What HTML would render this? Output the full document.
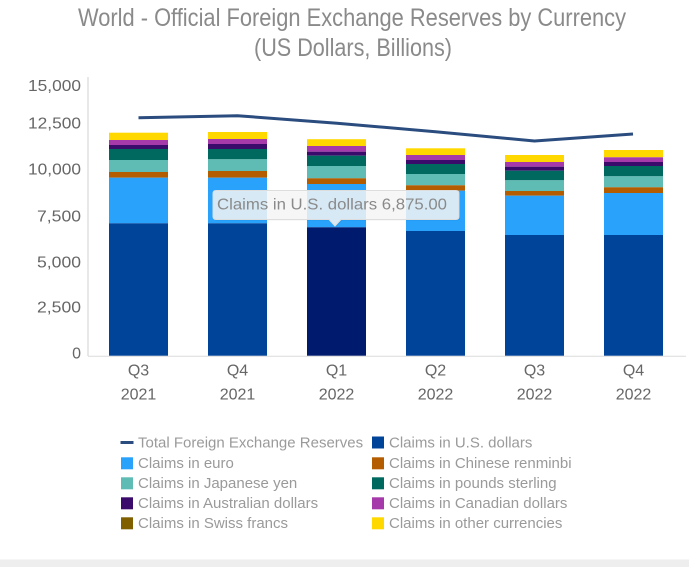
<!DOCTYPE html>
<html>
<head>
<meta charset="utf-8">
<style>
  html, body { margin: 0; padding: 0; background: #ffffff; }
  body { width: 689px; height: 567px; overflow: hidden; }
  svg { display: block; font-family: "Liberation Sans", sans-serif; }
</style>
</head>
<body>
<svg width="689" height="567" viewBox="0 0 689 567" xmlns="http://www.w3.org/2000/svg">
  <rect x="0" y="0" width="689" height="567" fill="#ffffff"/>
  <!-- bottom gray band -->
  <rect x="0" y="559.5" width="689" height="8" fill="#eeeeee"/>

  <!-- Title -->
  <text x="78" y="26" font-size="25" fill="#8a8a8a" textLength="548" lengthAdjust="spacingAndGlyphs">World - Official Foreign Exchange Reserves by Currency</text>
  <text x="254" y="56" font-size="25" fill="#8a8a8a" textLength="198" lengthAdjust="spacingAndGlyphs">(US Dollars, Billions)</text>

  <!-- Y axis labels -->
  <g font-size="16" fill="#666666" text-anchor="end">
    <text x="81" y="91" textLength="53" lengthAdjust="spacingAndGlyphs">15,000</text>
    <text x="81" y="128.5" textLength="53" lengthAdjust="spacingAndGlyphs">12,500</text>
    <text x="81" y="174.5" textLength="53" lengthAdjust="spacingAndGlyphs">10,000</text>
    <text x="81" y="221.5" textLength="44" lengthAdjust="spacingAndGlyphs">7,500</text>
    <text x="81" y="267.5" textLength="44" lengthAdjust="spacingAndGlyphs">5,000</text>
    <text x="81" y="312.5" textLength="44" lengthAdjust="spacingAndGlyphs">2,500</text>
    <text x="81" y="358.5">0</text>
  </g>

  <!-- axes -->
  <line x1="88" y1="77" x2="88" y2="356" stroke="#d0d0d0" stroke-width="1"/>
  <line x1="88" y1="356.2" x2="686" y2="356.2" stroke="#dcdcdc" stroke-width="1"/>

  <!-- Bars: Q3 2021 -->
  <g>
    <rect x="109" y="132.7" width="59" height="7.3" fill="#ffd800"/>
    <rect x="109" y="140" width="59" height="5" fill="#a63aaa"/>
    <rect x="109" y="145" width="59" height="4" fill="#3b0b6b"/>
    <rect x="109" y="149" width="59" height="11" fill="#00695f"/>
    <rect x="109" y="160" width="59" height="12" fill="#5ebcb5"/>
    <rect x="109" y="172" width="59" height="5.7" fill="#b35c00"/>
    <rect x="109" y="177.7" width="59" height="45.6" fill="#28a2fb"/>
    <rect x="109" y="223.3" width="59" height="132.4" fill="#00449a"/>
  </g>
  <!-- Q4 2021 -->
  <g>
    <rect x="208" y="132" width="59" height="7" fill="#ffd800"/>
    <rect x="208" y="139" width="59" height="5" fill="#a63aaa"/>
    <rect x="208" y="144" width="59" height="5" fill="#3b0b6b"/>
    <rect x="208" y="149" width="59" height="10.3" fill="#00695f"/>
    <rect x="208" y="159.3" width="59" height="11.7" fill="#5ebcb5"/>
    <rect x="208" y="171" width="59" height="6.7" fill="#b35c00"/>
    <rect x="208" y="177.7" width="59" height="45.6" fill="#28a2fb"/>
    <rect x="208" y="223.3" width="59" height="132.4" fill="#00449a"/>
  </g>
  <!-- Q1 2022 (hovered) -->
  <g>
    <rect x="307" y="139.2" width="59" height="6.8" fill="#ffd800"/>
    <rect x="307" y="146" width="59" height="5.7" fill="#a63aaa"/>
    <rect x="307" y="151.7" width="59" height="4" fill="#3b0b6b"/>
    <rect x="307" y="155.7" width="59" height="10.3" fill="#00695f"/>
    <rect x="307" y="166" width="59" height="12.3" fill="#5ebcb5"/>
    <rect x="307" y="178.3" width="59" height="5.7" fill="#b35c00"/>
    <rect x="307" y="184" width="59" height="43.3" fill="#28a2fb"/>
    <rect x="307" y="227.3" width="59" height="128.4" fill="#001b6e"/>
  </g>
  <!-- Q2 2022 -->
  <g>
    <rect x="406" y="148.3" width="59" height="6.7" fill="#ffd800"/>
    <rect x="406" y="155" width="59" height="5" fill="#a63aaa"/>
    <rect x="406" y="160" width="59" height="4" fill="#3b0b6b"/>
    <rect x="406" y="164" width="59" height="10" fill="#00695f"/>
    <rect x="406" y="174" width="59" height="11.3" fill="#5ebcb5"/>
    <rect x="406" y="185.3" width="59" height="5.4" fill="#b35c00"/>
    <rect x="406" y="190.7" width="59" height="40.3" fill="#28a2fb"/>
    <rect x="406" y="231" width="59" height="124.7" fill="#00449a"/>
  </g>
  <!-- Q3 2022 -->
  <g>
    <rect x="505" y="155" width="59" height="7" fill="#ffd800"/>
    <rect x="505" y="162" width="59" height="4.7" fill="#a63aaa"/>
    <rect x="505" y="166.7" width="59" height="4" fill="#3b0b6b"/>
    <rect x="505" y="170.7" width="59" height="9.6" fill="#00695f"/>
    <rect x="505" y="180.3" width="59" height="10.7" fill="#5ebcb5"/>
    <rect x="505" y="191" width="59" height="4.7" fill="#b35c00"/>
    <rect x="505" y="195.7" width="59" height="39.3" fill="#28a2fb"/>
    <rect x="505" y="235" width="59" height="120.7" fill="#00449a"/>
  </g>
  <!-- Q4 2022 -->
  <g>
    <rect x="604" y="150" width="59" height="7.3" fill="#ffd800"/>
    <rect x="604" y="157.3" width="59" height="4.7" fill="#a63aaa"/>
    <rect x="604" y="162" width="59" height="4" fill="#3b0b6b"/>
    <rect x="604" y="166" width="59" height="10.3" fill="#00695f"/>
    <rect x="604" y="176.3" width="59" height="11" fill="#5ebcb5"/>
    <rect x="604" y="187.3" width="59" height="5.7" fill="#b35c00"/>
    <rect x="604" y="193" width="59" height="42" fill="#28a2fb"/>
    <rect x="604" y="235" width="59" height="120.7" fill="#00449a"/>
  </g>

  <!-- Total line -->
  <polyline points="138.5,117.7 237.5,115.7 337,123.3 435.5,131.7 534.5,141 633,134"
            fill="none" stroke="#2b4c7e" stroke-width="3" stroke-linejoin="round" stroke-linecap="butt"/>

  <!-- X labels -->
  <g font-size="16" fill="#666666" text-anchor="middle">
    <text x="138.5" y="375.5">Q3</text><text x="138.5" y="399.5">2021</text>
    <text x="237.5" y="375.5">Q4</text><text x="237.5" y="399.5">2021</text>
    <text x="336.5" y="375.5">Q1</text><text x="336.5" y="399.5">2022</text>
    <text x="435.5" y="375.5">Q2</text><text x="435.5" y="399.5">2022</text>
    <text x="534.5" y="375.5">Q3</text><text x="534.5" y="399.5">2022</text>
    <text x="633.5" y="375.5">Q4</text><text x="633.5" y="399.5">2022</text>
  </g>

  <!-- Tooltip -->
  <g>
    <path d="M216,190.5 H456 Q459,190.5 459,193.5 V216.5 Q459,219.5 456,219.5 H341 L335,226 L329,219.5 H216 Q213,219.5 213,216.5 V193.5 Q213,190.5 216,190.5 Z"
          fill="#000000" fill-opacity="0.06" transform="translate(1,1)"/>
    <path d="M216,190.5 H456 Q459,190.5 459,193.5 V216.5 Q459,219.5 456,219.5 H341 L335,226 L329,219.5 H216 Q213,219.5 213,216.5 V193.5 Q213,190.5 216,190.5 Z"
          fill="#f7f7f7" fill-opacity="0.85" stroke="#dddddd" stroke-width="1"/>
    <text x="217" y="209.5" font-size="16" fill="#8a8a8a" textLength="230" lengthAdjust="spacingAndGlyphs">Claims in U.S. dollars 6,875.00</text>
  </g>

  <!-- Legend -->
  <g font-size="15" fill="#9a9a9a">
    <rect x="120.5" y="441" width="13" height="3" fill="#2b4c7e"/>
    <text x="138" y="447.5">Total Foreign Exchange Reserves</text>
    <rect x="372" y="436.5" width="12" height="12" fill="#00449a"/>
    <text x="389" y="447.5">Claims in U.S. dollars</text>

    <rect x="121" y="457.3" width="12" height="12" fill="#28a2fb"/>
    <text x="138" y="468">Claims in euro</text>
    <rect x="372" y="457.3" width="12" height="12" fill="#b35c00"/>
    <text x="389" y="468">Claims in Chinese renminbi</text>

    <rect x="121" y="477.3" width="12" height="12" fill="#5ebcb5"/>
    <text x="138" y="488">Claims in Japanese yen</text>
    <rect x="372" y="477.3" width="12" height="12" fill="#00695f"/>
    <text x="389" y="488">Claims in pounds sterling</text>

    <rect x="121" y="497.3" width="12" height="12" fill="#3b0b6b"/>
    <text x="138" y="508">Claims in Australian dollars</text>
    <rect x="372" y="497.3" width="12" height="12" fill="#a63aaa"/>
    <text x="389" y="508">Claims in Canadian dollars</text>

    <rect x="121" y="517.3" width="12" height="12" fill="#7f5f00"/>
    <text x="138" y="528">Claims in Swiss francs</text>
    <rect x="372" y="517.3" width="12" height="12" fill="#ffd800"/>
    <text x="389" y="528">Claims in other currencies</text>
  </g>
</svg>
</body>
</html>
